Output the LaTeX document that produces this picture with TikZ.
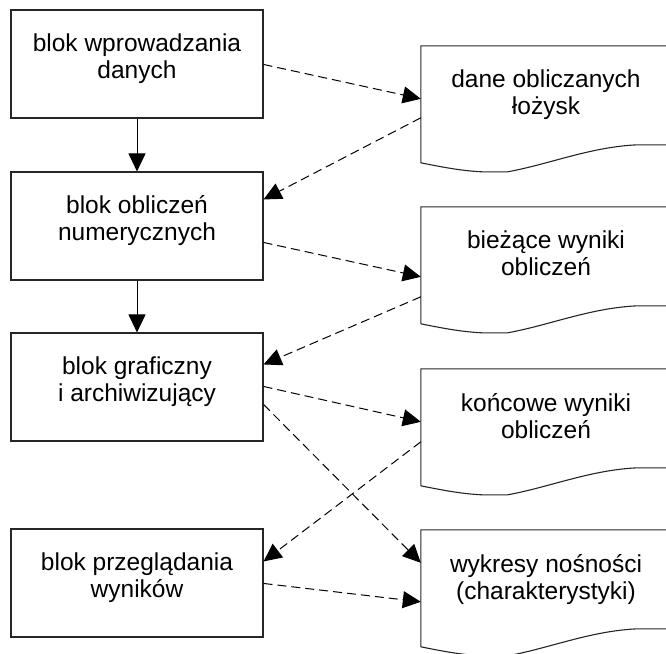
\documentclass[tikz,border=0pt]{standalone}
\usepackage{fontspec}
\setmainfont{Liberation Sans}
\usetikzlibrary{arrows.meta}

\tikzset{
  blok/.style={draw=black!85, line width=1.1pt, minimum width=252pt,
    minimum height=108pt, inner sep=0pt},
  dok/.style={minimum width=250pt, minimum height=117pt, inner sep=0pt},
  ksztalt/.style={draw=black!85, line width=1.1pt},
  napis/.style={anchor=north, yshift=-24pt, inner sep=0pt, align=center,
    font=\fontsize{24.5}{27}\selectfont},
  przeplyw/.style={line width=1pt, -{Triangle[length=18pt,width=17pt]}},
  dane/.style={przeplyw, dash pattern=on 9pt off 5pt},
}

\begin{document}
\begin{tikzpicture}[x=1pt,y=-1pt]
    \clip (0,0) rectangle (666,653);
    % bloki programu
    \node[blok, label={[napis]north:{blok wprowadzania\\danych}}] (b1) at (137,64) {};
    \node[blok, label={[napis]north:{blok obliczeń\\numerycznych}}] (b2) at (137,226) {};
    \node[blok, label={[napis]north:{blok graficzny\\i archiwizujący}}] (b3) at (137,387) {};
    \node[blok, label={[napis]north:{blok przeglądania\\wyników}}] (b4) at (137,583) {};
    % dokumenty
    \node[dok, label={[napis]north:{dane obliczanych\\łożysk}}] (d1) at (546,104.5) {};
    \node[dok, label={[napis]north:{bieżące wyniki\\obliczeń}}] (d2) at (546,265.5) {};
    \node[dok, label={[napis]north:{końcowe wyniki\\obliczeń}}] (d3) at (546,427.5) {};
    \node[dok, label={[napis]north:{wykresy nośności\\(charakterystyki)}}] (d4) at (546,588.5) {};
    \foreach \d in {d1,d2,d3,d4}
      \draw[ksztalt, shift={(\d.north west)}] (0,117) -- (0,0) -- (250,0)
        -- (250,99) -- (217,99)
        .. controls (170,101) and (130,118) .. (87,126) -- (61,126)
        .. controls (40,125) and (20,121) .. (0,117);
    % przeplyw sterowania
    \draw[przeplyw] (b1) -- (b2);
    \draw[przeplyw] (b2) -- (b3);
    % przeplyw danych
    \draw[dane] ([yshift=-55pt]b1.north east) -- ([yshift=-53pt]d1.north west);
    \draw[dane] ([yshift=-72pt]d1.north west) -- ([yshift=-28pt]b2.north east);
    \draw[dane] ([yshift=-71pt]b2.north east) -- ([yshift=-70pt]d2.north west);
    \draw[dane] ([yshift=-90pt]d2.north west) -- ([yshift=-32pt]b3.north east);
    \draw[dane] ([yshift=-54pt]b3.north east) -- ([yshift=-53pt]d3.north west);
    \draw[dane] ([yshift=-72pt]b3.north east) -- ([yshift=-33pt]d4.north west);
    \draw[dane] ([yshift=-73pt]d3.north west) -- ([yshift=-33pt]b4.north east);
    \draw[dane] ([yshift=-55pt]b4.north east) -- ([yshift=-72pt]d4.north west);
\end{tikzpicture}
\end{document}
